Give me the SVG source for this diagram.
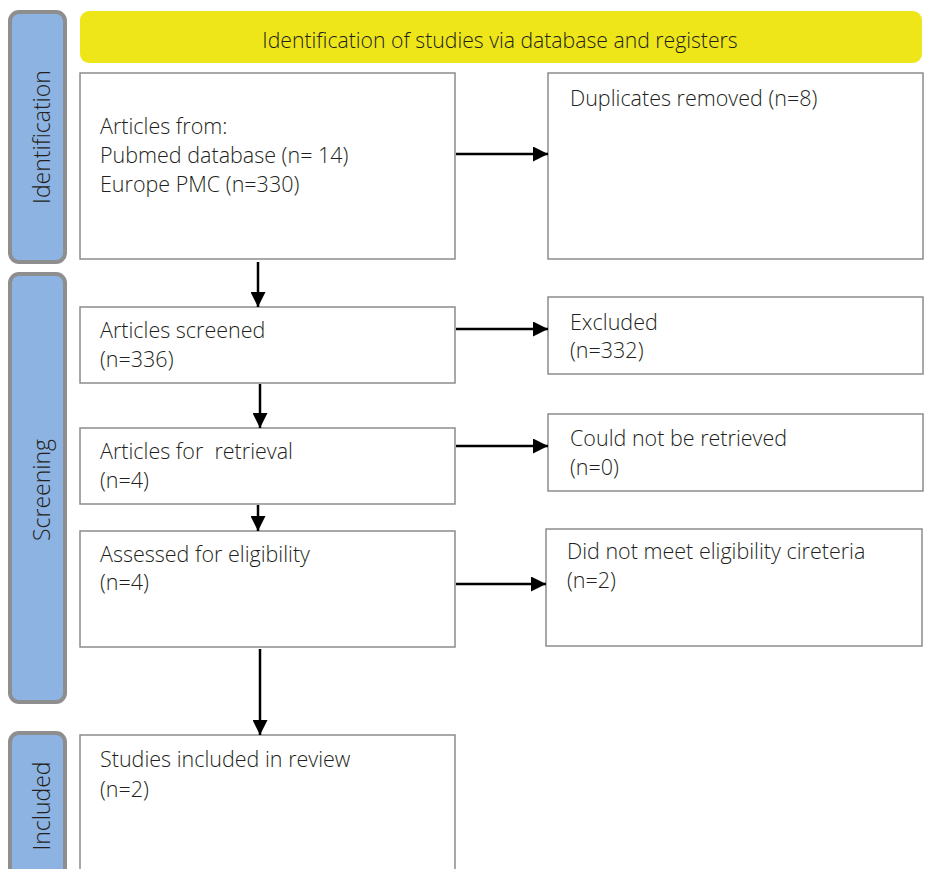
<svg xmlns="http://www.w3.org/2000/svg" width="928" height="869" viewBox="0 0 928 869">
<defs>
<style>
.bar{fill:#8db3e2;stroke:#8e8e8e;stroke-width:4}
.box{fill:#ffffff;stroke:#8c8c8c;stroke-width:1.5}
.t{font-family:"Open Sans","Noto Sans","Liberation Sans",sans-serif;font-size:21.5px;fill:#231f20;font-weight:300;white-space:pre}
.h{font-size:21.2px}
.side{font-family:"Open Sans","Noto Sans","Liberation Sans",sans-serif;font-size:23px;fill:#231f20;text-anchor:middle;font-weight:300}
.c{stroke:#000;stroke-width:2.5;fill:none;marker-end:url(#ah)}
</style>
<marker id="ah" viewBox="0 0 10 10" refX="10" refY="5" markerWidth="6" markerHeight="6" markerUnits="strokeWidth" orient="auto">
<path d="M0,0 L10,5 L0,10 z" fill="#000"/>
</marker>
</defs>
<rect width="928" height="869" fill="#ffffff"/>
<g id="phase-identification">
<rect class="bar" x="10" y="12" width="55" height="250" rx="9"/>
<text class="side" transform="translate(50,137) rotate(-90)">Identification</text>
</g>
<g id="phase-screening">
<rect class="bar" x="10" y="274" width="55" height="428" rx="9"/>
<text class="side" transform="translate(50,490) rotate(-90)">Screening</text>
</g>
<g id="phase-included">
<rect class="bar" x="10" y="733" width="55" height="160" rx="9"/>
<text class="side" transform="translate(50,806) rotate(-90)">Included</text>
</g>
<g id="header">
<rect x="80" y="11" width="842" height="52" rx="9" fill="#efe619"/>
<text class="t h" x="500" y="48" text-anchor="middle">Identification of studies via database and registers</text>
</g>
<g id="articles-from">
<rect class="box" x="80" y="73" width="375" height="186"/>
<text class="t" x="100" y="134">Articles from:</text>
<text class="t" x="100" y="163">Pubmed database (n= 14)</text>
<text class="t" x="100" y="192">Europe PMC (n=330)</text>
</g>
<g id="duplicates">
<rect class="box" x="548" y="73" width="375" height="186"/>
<text class="t" x="570" y="106">Duplicates removed (n=8)</text>
</g>
<g id="screened">
<rect class="box" x="80" y="307" width="375" height="76"/>
<text class="t" x="100" y="338">Articles screened</text>
<text class="t" x="100" y="367">(n=336)</text>
</g>
<g id="excluded">
<rect class="box" x="548" y="297" width="375" height="77"/>
<text class="t" x="570" y="330">Excluded</text>
<text class="t" x="570" y="358">(n=332)</text>
</g>
<g id="retrieval">
<rect class="box" x="80" y="428" width="375" height="76"/>
<text class="t" x="100" y="459" xml:space="preserve">Articles for  retrieval</text>
<text class="t" x="100" y="488">(n=4)</text>
</g>
<g id="not-retrieved">
<rect class="box" x="548" y="414" width="375" height="77"/>
<text class="t" x="570" y="446">Could not be retrieved</text>
<text class="t" x="570" y="475">(n=0)</text>
</g>
<g id="eligibility">
<rect class="box" x="80" y="531" width="375" height="116"/>
<text class="t" x="100" y="562">Assessed for eligibility</text>
<text class="t" x="100" y="590">(n=4)</text>
</g>
<g id="not-eligible">
<rect class="box" x="546" y="529" width="376" height="117"/>
<text class="t" x="567" y="559">Did not meet eligibility cireteria</text>
<text class="t" x="567" y="588">(n=2)</text>
</g>
<g id="included">
<rect class="box" x="80" y="735" width="375" height="160"/>
<text class="t" x="100" y="767">Studies included in review</text>
<text class="t" x="100" y="797">(n=2)</text>
</g>
<g id="connectors">
<line class="c" x1="456" y1="154" x2="548" y2="154"/>
<line class="c" x1="456" y1="329" x2="548" y2="329"/>
<line class="c" x1="456" y1="446" x2="548" y2="446"/>
<line class="c" x1="456" y1="584" x2="546" y2="584"/>
<line class="c" x1="258" y1="262" x2="258" y2="307"/>
<line class="c" x1="260" y1="384" x2="260" y2="428"/>
<line class="c" x1="258" y1="505" x2="258" y2="531"/>
<line class="c" x1="260" y1="649" x2="260" y2="735"/>
</g>
</svg>
